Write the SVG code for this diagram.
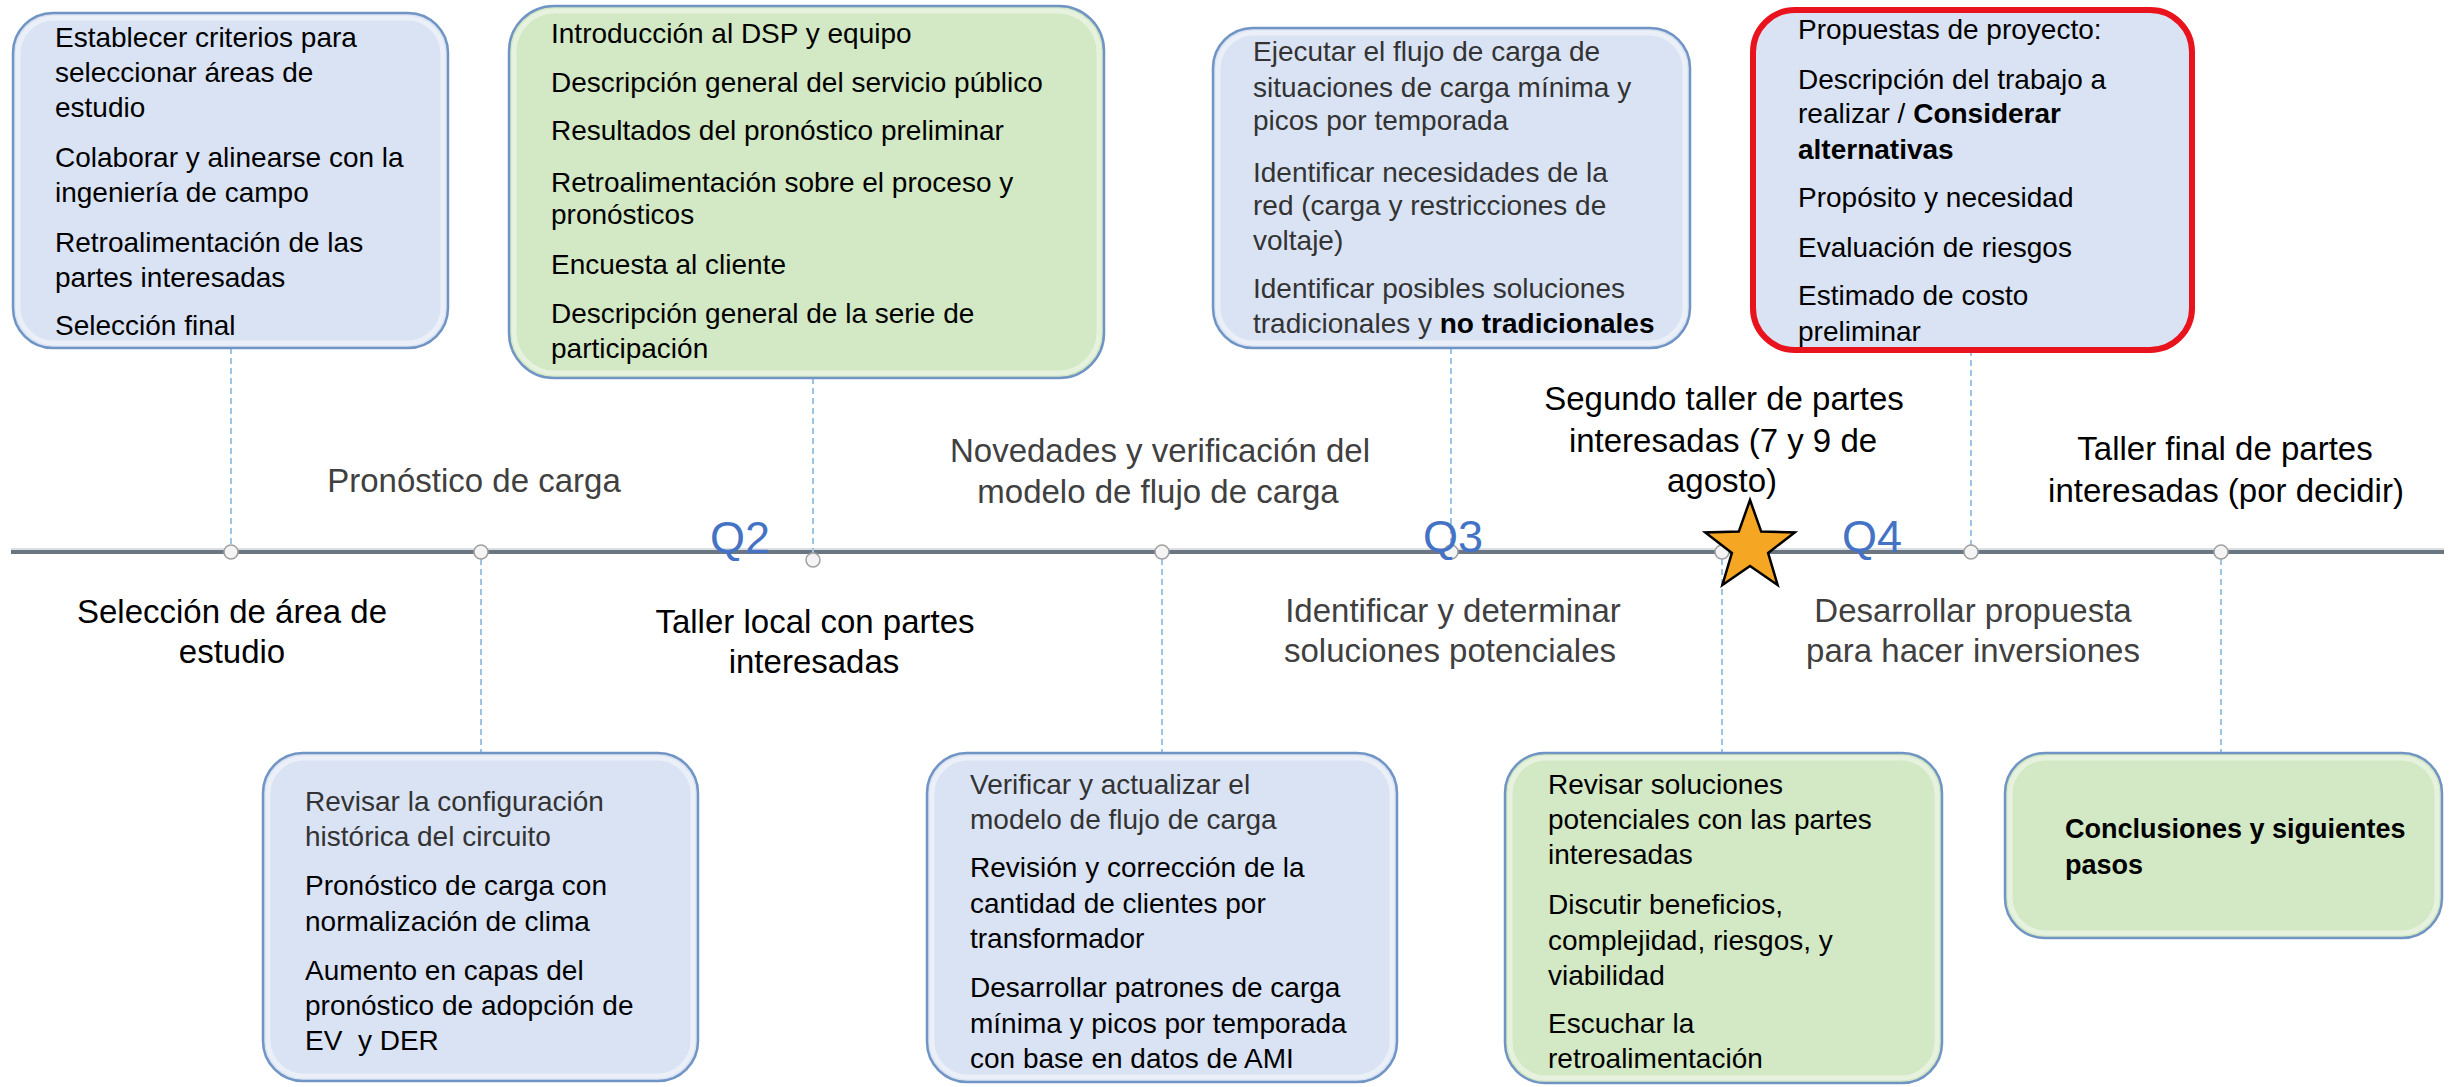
<svg xmlns="http://www.w3.org/2000/svg" width="2450" height="1087" viewBox="0 0 2450 1087">
<style>
text{font-family:"Liberation Sans",Arial,sans-serif;}
.bx{stroke:#7094c4;stroke-width:2.5;}
.blue{fill:#dae3f3;}
.green{fill:#d3e8c4;}
.red{fill:#dae3f3;stroke:#e8131c;stroke-width:6;}
.inner{fill:none;stroke:#ffffff;stroke-opacity:0.45;stroke-width:5;}
.t{font-size:28px;fill:#000;}
.tg{font-size:28px;fill:#333333;}
.b{font-weight:bold;fill:#000;}
.lab{font-size:33px;fill:#404040;text-anchor:middle;}
.mil{font-size:33px;fill:#000;text-anchor:middle;}
.q{font-size:45px;fill:#4472c4;text-anchor:middle;}
.con{stroke:#9dc3e6;stroke-width:2;stroke-dasharray:6 4;fill:none;}
.dot{fill:#f4f4f4;stroke:#a0a0a0;stroke-width:1.5;}
</style>

<g id="timeline">
<line x1="11" y1="552" x2="2444" y2="552" stroke="#6b7683" stroke-width="4"/>
<line x1="11" y1="549" x2="2444" y2="549" stroke="#b8c0c8" stroke-width="1"/>
</g>

<g id="connectors">
<line class="con" x1="231" y1="348" x2="231" y2="545"/>
<line class="con" x1="481" y1="559" x2="481" y2="753"/>
<line class="con" x1="813" y1="378" x2="813" y2="553"/>
<line class="con" x1="1162" y1="559" x2="1162" y2="753"/>
<line class="con" x1="1451" y1="348" x2="1451" y2="545"/>
<line class="con" x1="1722" y1="559" x2="1722" y2="753"/>
<line class="con" x1="1971" y1="350" x2="1971" y2="545"/>
<line class="con" x1="2221" y1="559" x2="2221" y2="753"/>
</g>

<g id="dots">
<circle class="dot" cx="231" cy="552" r="7"/>
<circle class="dot" cx="481" cy="552" r="7"/>
<circle class="dot" cx="813" cy="560" r="7"/>
<circle class="dot" cx="1162" cy="552" r="7"/>
<circle class="dot" cx="1451" cy="552" r="7"/>
<circle class="dot" cx="1722" cy="552" r="7"/>
<circle class="dot" cx="1971" cy="552" r="7"/>
<circle class="dot" cx="2221" cy="552" r="7"/>
</g>

<g id="quarters">
<text class="q" x="740" y="553">Q2</text>
<text class="q" x="1453" y="552">Q3</text>
<text class="q" x="1872" y="552">Q4</text>
</g>

<g id="star">
<polygon points="1750,500 1761.2,531.6 1794.7,532.5 1768.1,552.9 1777.6,585 1750,566 1722.4,585 1731.9,552.9 1705.3,532.5 1738.8,531.6" fill="#f5a623" stroke="#000" stroke-width="2.5" stroke-linejoin="miter"/>
</g>

<g id="labels">
<text class="lab" x="474" y="492">Pronóstico de carga</text>
<text class="lab" x="1160" y="462">Novedades y verificación del</text>
<text class="lab" x="1158" y="503">modelo de flujo de carga</text>
<text class="lab" x="1453" y="622">Identificar y determinar</text>
<text class="lab" x="1450" y="662">soluciones potenciales</text>
<text class="lab" x="1973" y="622">Desarrollar propuesta</text>
<text class="lab" x="1973" y="662">para hacer inversiones</text>
<text class="mil" x="232" y="623">Selección de área de</text>
<text class="mil" x="232" y="663">estudio</text>
<text class="mil" x="815" y="633">Taller local con partes</text>
<text class="mil" x="814" y="673">interesadas</text>
<text class="mil" x="1724" y="410">Segundo taller de partes</text>
<text class="mil" x="1723" y="452">interesadas (7 y 9 de</text>
<text class="mil" x="1722" y="492">agosto)</text>
<text class="mil" x="2225" y="460">Taller final de partes</text>
<text class="mil" x="2226" y="502">interesadas (por decidir)</text>
</g>

<g id="box-seleccion">
<rect class="bx blue" x="13" y="13" width="435" height="335" rx="40"/>
<rect class="inner" x="18" y="18" width="425" height="325" rx="36"/>
<text class="t" x="55" y="47">Establecer criterios para</text>
<text class="t" x="55" y="82">seleccionar áreas de</text>
<text class="t" x="55" y="117">estudio</text>
<text class="t" x="55" y="167">Colaborar y alinearse con la</text>
<text class="t" x="55" y="202">ingeniería de campo</text>
<text class="t" x="55" y="252">Retroalimentación de las</text>
<text class="t" x="55" y="287">partes interesadas</text>
<text class="t" x="55" y="335">Selección final</text>
</g>

<g id="box-taller-local">
<rect class="bx green" x="509" y="6" width="595" height="372" rx="45"/>
<rect class="inner" x="514" y="11" width="585" height="362" rx="41"/>
<text class="t" x="551" y="43">Introducción al DSP y equipo</text>
<text class="t" x="551" y="92">Descripción general del servicio público</text>
<text class="t" x="551" y="140">Resultados del pronóstico preliminar</text>
<text class="t" x="551" y="192">Retroalimentación sobre el proceso y</text>
<text class="t" x="551" y="224">pronósticos</text>
<text class="t" x="551" y="274">Encuesta al cliente</text>
<text class="t" x="551" y="323">Descripción general de la serie de</text>
<text class="t" x="551" y="358">participación</text>
</g>

<g id="box-flujo">
<rect class="bx blue" x="1213" y="28" width="477" height="320" rx="40"/>
<rect class="inner" x="1218" y="33" width="467" height="310" rx="36"/>
<text class="tg" x="1253" y="61">Ejecutar el flujo de carga de</text>
<text class="tg" x="1253" y="97">situaciones de carga mínima y</text>
<text class="tg" x="1253" y="130">picos por temporada</text>
<text class="tg" x="1253" y="182">Identificar necesidades de la</text>
<text class="tg" x="1253" y="215">red (carga y restricciones de</text>
<text class="tg" x="1253" y="250">voltaje)</text>
<text class="tg" x="1253" y="298">Identificar posibles soluciones</text>
<text class="tg" x="1253" y="333">tradicionales y <tspan class="b">no tradicionales</tspan></text>
</g>

<g id="box-propuestas">
<rect class="red" x="1753" y="10" width="439" height="340" rx="42"/>
<text class="t" x="1798" y="39" fill="#1a1a1a">Propuestas de proyecto:</text>
<text class="t" x="1798" y="89">Descripción del trabajo a</text>
<text class="t" x="1798" y="123">realizar / <tspan class="b">Considerar</tspan></text>
<text class="t b" x="1798" y="159">alternativas</text>
<text class="t" x="1798" y="207">Propósito y necesidad</text>
<text class="t" x="1798" y="257">Evaluación de riesgos</text>
<text class="t" x="1798" y="305">Estimado de costo</text>
<text class="t" x="1798" y="341">preliminar</text>
</g>

<g id="box-pronostico">
<rect class="bx blue" x="263" y="753" width="435" height="328" rx="40"/>
<rect class="inner" x="268" y="758" width="425" height="318" rx="36"/>
<text class="tg" x="305" y="811">Revisar la configuración</text>
<text class="tg" x="305" y="846">histórica del circuito</text>
<text class="t" x="305" y="895">Pronóstico de carga con</text>
<text class="t" x="305" y="931">normalización de clima</text>
<text class="t" x="305" y="980">Aumento en capas del</text>
<text class="t" x="305" y="1015">pronóstico de adopción de</text>
<text class="t" x="305" y="1050" style="white-space:pre">EV  y DER</text>
</g>

<g id="box-modelo">
<rect class="bx blue" x="927" y="753" width="470" height="329" rx="40"/>
<rect class="inner" x="932" y="758" width="460" height="319" rx="36"/>
<text class="tg" x="970" y="794">Verificar y actualizar el</text>
<text class="tg" x="970" y="829">modelo de flujo de carga</text>
<text class="t" x="970" y="877">Revisión y corrección de la</text>
<text class="t" x="970" y="913">cantidad de clientes por</text>
<text class="t" x="970" y="948">transformador</text>
<text class="t" x="970" y="997">Desarrollar patrones de carga</text>
<text class="t" x="970" y="1033">mínima y picos por temporada</text>
<text class="t" x="970" y="1068">con base en datos de AMI</text>
</g>

<g id="box-revisar">
<rect class="bx green" x="1505" y="753" width="437" height="330" rx="40"/>
<rect class="inner" x="1510" y="758" width="427" height="320" rx="36"/>
<text class="t" x="1548" y="794">Revisar soluciones</text>
<text class="t" x="1548" y="829">potenciales con las partes</text>
<text class="t" x="1548" y="864">interesadas</text>
<text class="t" x="1548" y="914">Discutir beneficios,</text>
<text class="t" x="1548" y="950">complejidad, riesgos, y</text>
<text class="t" x="1548" y="985">viabilidad</text>
<text class="t" x="1548" y="1033">Escuchar la</text>
<text class="t" x="1548" y="1068">retroalimentación</text>
</g>

<g id="box-conclusiones">
<rect class="bx green" x="2005" y="753" width="437" height="185" rx="40"/>
<rect class="inner" x="2010" y="758" width="427" height="175" rx="36"/>
<text class="b" x="2065" y="838" font-size="27">Conclusiones y siguientes</text>
<text class="b" x="2065" y="874" font-size="27">pasos</text>
</g>
</svg>
